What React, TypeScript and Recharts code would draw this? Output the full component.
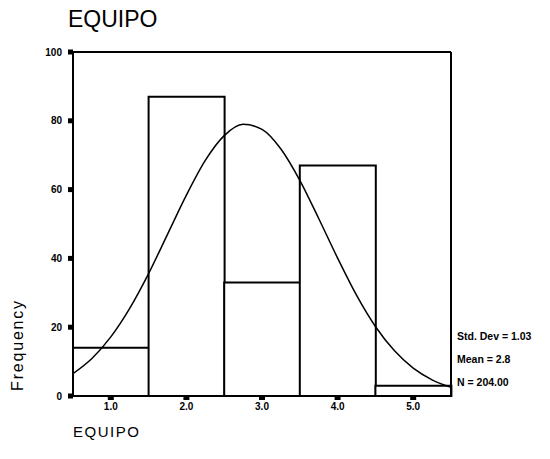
import {
  ComposedChart,
  Bar,
  Line,
  XAxis,
  YAxis,
  ReferenceLine,
} from 'recharts';

// histogram bins
const bins = ['1.0', '2.0', '3.0', '4.0', '5.0'];
const counts = [14, 87, 33, 67, 3];

// fitted normal curve
const curveX = [0.5, 0.75, 1, 1.25, 1.5, 1.75, 2, 2.25, 2.5, 2.75, 3, 3.25, 3.5, 3.75, 4, 4.25, 4.5, 4.75, 5, 5.25, 5.5];
const curveY = [6.5, 10.9, 17.2, 25.5, 35.6, 47.0, 58.4, 68.5, 75.7, 79.0, 77.5, 71.8, 62.7, 51.6, 40.1, 29.3, 20.2, 13.2, 8.1, 4.7, 2.5];

const yTicks = [0, 20, 40, 60, 80, 100];
const stats = ['Std. Dev = 1.03', 'Mean = 2.8', 'N = 204.00'];

const FONT = '"Liberation Sans", Arial, sans-serif';

const barData = bins.map((b, i) => ({ bin: b, count: counts[i] }));
const curveData = curveX.map((x, i) => ({ x, y: curveY[i] }));

function XTick({ x, y, payload }: any) {
  return (
    <g>
      <rect x={x - 3} y={y} width={6} height={4} fill="#000" />
      <text x={x} y={y + 14} textAnchor="middle" fontSize={10} fontWeight="bold" fontFamily={FONT} fill="#000">
        {payload.value}
      </text>
    </g>
  );
}

function YTick({ x, y, payload }: any) {
  return (
    <g>
      <rect x={x - 5} y={y - 2.5} width={5} height={5} fill="#000" />
      <text x={x - 11} y={y + 3.5} textAnchor="end" fontSize={10} fontWeight="bold" fontFamily={FONT} fill="#000">
        {payload.value}
      </text>
    </g>
  );
}

export default function App() {
  return (
    <div style={{ position: 'absolute', left: 0, top: 0, width: 550, height: 459, background: '#fff', fontFamily: FONT }}>
      <div style={{ position: 'absolute', left: 68, top: 6, fontSize: 23, color: '#000' }}>EQUIPO</div>
      <div
        style={{
          position: 'absolute',
          left: 18,
          top: 345,
          fontSize: 16,
          letterSpacing: 1.8,
          color: '#000',
          transform: 'translate(-50%, -50%) rotate(-90deg)',
          whiteSpace: 'nowrap',
        }}
      >
        Frequency
      </div>
      <div style={{ position: 'absolute', left: 73, top: 423, fontSize: 15, letterSpacing: 1.5, color: '#000' }}>EQUIPO</div>
      {stats.map((s, i) => (
        <div
          key={s}
          style={{ position: 'absolute', left: 457, top: 330 + i * 23, fontSize: 10.5, fontWeight: 'bold', color: '#000', whiteSpace: 'nowrap' }}
        >
          {s}
        </div>
      ))}
      <ComposedChart
        width={550}
        height={459}
        data={barData}
        barCategoryGap={0}
        margin={{ top: 52, right: 99, bottom: 33, left: 0 }}
      >
        <XAxis
          xAxisId="bins"
          dataKey="bin"
          height={30}
          tickSize={0}
          tickMargin={0}
          tick={<XTick />}
          axisLine={{ stroke: '#000', strokeWidth: 2 }}
          tickLine={false}
          interval={0}
        />
        <XAxis xAxisId="curve" type="number" dataKey="x" domain={[0.5, 5.5]} allowDataOverflow hide />
        <YAxis
          width={73}
          domain={[0, 100]}
          ticks={yTicks}
          tickSize={0}
          tickMargin={0}
          tick={<YTick />}
          axisLine={{ stroke: '#000', strokeWidth: 2 }}
          tickLine={false}
        />
        <ReferenceLine y={100} stroke="#000" strokeWidth={2} xAxisId="bins" />
        <ReferenceLine x={5.5} stroke="#000" strokeWidth={2} xAxisId="curve" />
        <Bar xAxisId="bins" dataKey="count" fill="#fff" stroke="#000" strokeWidth={2} isAnimationActive={false} />
        <Line
          xAxisId="curve"
          data={curveData}
          dataKey="y"
          type="monotone"
          stroke="#000"
          strokeWidth={1.5}
          dot={false}
          activeDot={false}
          isAnimationActive={false}
        />
      </ComposedChart>
    </div>
  );
}
